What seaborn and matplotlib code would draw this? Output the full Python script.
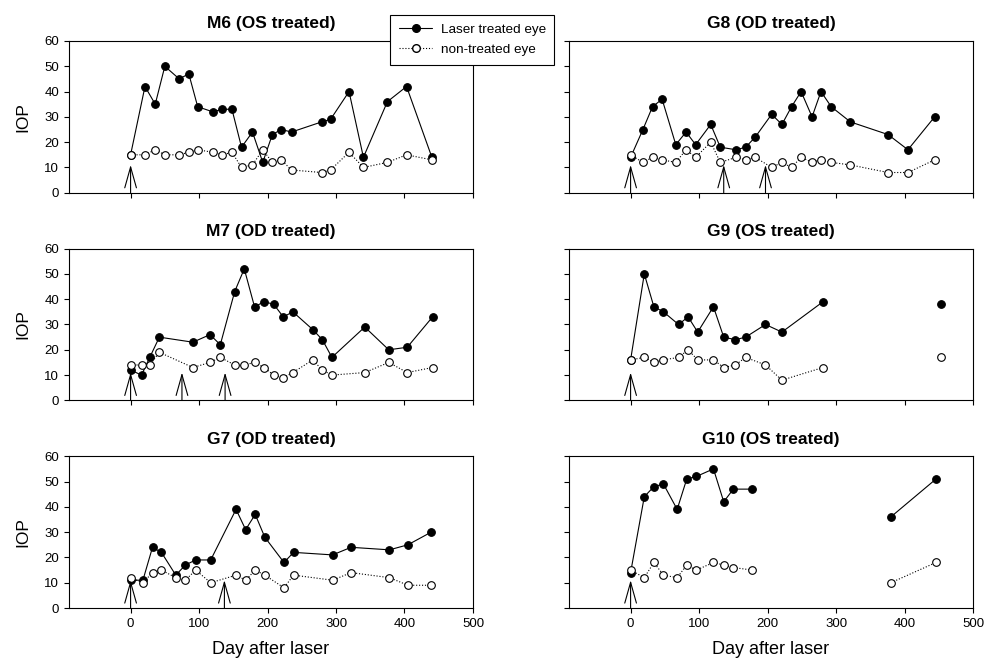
import pandas as pd
import matplotlib.pyplot as plt
from matplotlib.lines import Line2D
import seaborn as sns

# -------------------------------------------------
# Style
# -------------------------------------------------
sns.set_style("ticks")
plt.rcParams["font.family"] = ["Liberation Sans", "DejaVu Sans"]
plt.rcParams["axes.edgecolor"] = "black"
plt.rcParams["axes.linewidth"] = 0.8
plt.rcParams["xtick.color"] = "black"
plt.rcParams["ytick.color"] = "black"
plt.rcParams["text.color"] = "black"
plt.rcParams["axes.labelcolor"] = "black"

# -------------------------------------------------
# Data (IOP per day after laser)
# -------------------------------------------------
M6_day = [0, 21, 36, 50, 71, 85, 98, 120, 134, 148, 162, 178, 193, 207, 220, 235, 279, 292, 319, 340, 375, 403, 440]
M6_laser = [15, 42, 35, 50, 45, 47, 34, 32, 33, 33, 18, 24, 12, 23, 25, 24, 28, 29, 40, 14, 36, 42, 14]
M6_fellow = [15, 15, 17, 15, 15, 16, 17, 16, 15, 16, 10, 11, 17, 12, 13, 9, 8, 9, 16, 10, 12, 15, 13]
M6_arrows = [0]

G8_day = [0, 18, 32, 46, 66, 81, 95, 117, 131, 154, 168, 182, 206, 221, 235, 249, 265, 278, 293, 321, 376, 405, 444]
G8_laser = [14, 25, 34, 37, 19, 24, 19, 27, 18, 17, 18, 22, 31, 27, 34, 40, 30, 40, 34, 28, 23, 17, 30]
G8_fellow = [15, 12, 14, 13, 12, 17, 14, 20, 12, 14, 13, 14, 10, 12, 10, 14, 12, 13, 12, 11, 8, 8, 13]
G8_arrows = [0, 136, 197]

M7_day = [0, 16, 28, 42, 91, 116, 131, 152, 166, 181, 195, 209, 223, 237, 266, 280, 294, 342, 377, 404, 441]
M7_laser = [12, 10, 17, 25, 23, 26, 22, 43, 52, 37, 39, 38, 33, 35, 28, 24, 17, 29, 20, 21, 33]
M7_fellow = [14, 14, 14, 19, 13, 15, 17, 14, 14, 15, 13, 10, 9, 11, 16, 12, 10, 11, 15, 11, 13]
M7_arrows = [0, 75, 138]

G9_day = [0, 20, 34, 48, 70, 84, 98, 121, 136, 153, 168, 197, 221, 281, 453]
G9_laser = [16, 50, 37, 35, 30, 33, 27, 37, 25, 24, 25, 30, 27, 39, 38]
G9_fellow = [16, 17, 15, 16, 17, 20, 16, 16, 13, 14, 17, 14, 8, 13, 17]
G9_seg = [0, 0, 0, 0, 0, 0, 0, 0, 0, 0, 0, 0, 0, 0, 1]
G9_arrows = [0]

G7_day = [0, 18, 32, 45, 66, 80, 95, 117, 154, 168, 182, 196, 224, 238, 295, 322, 378, 405, 439]
G7_laser = [11, 11, 24, 22, 13, 17, 19, 19, 39, 31, 37, 28, 18, 22, 21, 24, 23, 25, 30]
G7_fellow = [12, 10, 14, 15, 12, 11, 15, 10, 13, 11, 15, 13, 8, 13, 11, 14, 12, 9, 9]
G7_arrows = [0, 137]

G10_day = [0, 20, 34, 48, 68, 82, 96, 121, 136, 150, 178, 380, 446]
G10_laser = [14, 44, 48, 49, 39, 51, 52, 55, 42, 47, 47, 36, 51]
G10_fellow = [15, 12, 18, 13, 12, 17, 15, 18, 17, 16, 15, 10, 18]
G10_seg = [0, 0, 0, 0, 0, 0, 0, 0, 0, 0, 0, 1, 1]
G10_arrows = [0]


def draw_panel(ax, title, day, laser, fellow, arrows, seg=None):
    if seg is None:
        seg = [0] * len(day)
    df = pd.DataFrame({"day": day, "laser": laser, "fellow": fellow, "seg": seg})

    sns.lineplot(
        data=df, x="day", y="laser", units="seg", estimator=None, sort=False,
        color="black", lw=0.8, marker="o", markersize=5.5,
        markerfacecolor="black", markeredgecolor="black", markeredgewidth=0.8,
        ax=ax
    )
    sns.lineplot(
        data=df, x="day", y="fellow", units="seg", estimator=None, sort=False,
        color="black", lw=0.8, linestyle=":", marker="o", markersize=5.5,
        markerfacecolor="white", markeredgecolor="black", markeredgewidth=0.8,
        ax=ax
    )

    # laser treatment arrows
    for d in arrows:
        ax.annotate(
            "", xy=(d, 11), xytext=(d, 0), annotation_clip=False,
            arrowprops=dict(arrowstyle="->, head_length=1.5, head_width=0.42",
                            mutation_scale=10, lw=0.8, color="black",
                            shrinkA=0, shrinkB=0)
        )

    ax.set_title(title, fontsize=12.5, fontweight="bold", pad=9)
    ax.set_xlim(-90, 500)
    ax.set_ylim(0, 60)
    ax.set_xticks([0, 100, 200, 300, 400, 500])
    ax.set_yticks([0, 10, 20, 30, 40, 50, 60])
    ax.tick_params(direction="out", length=3.5, width=0.8, labelsize=9.5)
    ax.set_xlabel("")
    ax.set_ylabel("")
    for s in ax.spines.values():
        s.set_visible(True)
        s.set_linewidth(0.8)


fig, axes = plt.subplots(3, 2, figsize=(9.88, 6.64), dpi=100, sharex=True, sharey=True)
fig.subplots_adjust(left=0.0698, right=0.9848, bottom=0.0843, top=0.9383,
                    wspace=0.2376, hspace=0.368)

draw_panel(axes[0, 0], "M6 (OS treated)", M6_day, M6_laser, M6_fellow, M6_arrows)
draw_panel(axes[0, 1], "G8 (OD treated)", G8_day, G8_laser, G8_fellow, G8_arrows)
draw_panel(axes[1, 0], "M7 (OD treated)", M7_day, M7_laser, M7_fellow, M7_arrows)
draw_panel(axes[1, 1], "G9 (OS treated)", G9_day, G9_laser, G9_fellow, G9_arrows, G9_seg)
draw_panel(axes[2, 0], "G7 (OD treated)", G7_day, G7_laser, G7_fellow, G7_arrows)
draw_panel(axes[2, 1], "G10 (OS treated)", G10_day, G10_laser, G10_fellow, G10_arrows, G10_seg)

for ax in axes[:, 0]:
    ax.set_ylabel("IOP", fontsize=12.5, labelpad=10)
for ax in axes[2, :]:
    ax.set_xlabel("Day after laser", fontsize=13, labelpad=8)

handles = [
    Line2D([], [], color="black", lw=0.8, marker="o", markersize=5.5,
           markerfacecolor="black", markeredgecolor="black"),
    Line2D([], [], color="black", lw=0.8, linestyle=":", marker="o", markersize=5.5,
           markerfacecolor="white", markeredgecolor="black"),
]
leg = fig.legend(
    handles, ["Laser treated eye", "non-treated eye"],
    loc="upper left", bbox_to_anchor=(390 / 988, 1 - 15 / 664),
    borderaxespad=0, fontsize=9.7, frameon=True, fancybox=False,
    framealpha=1, edgecolor="black", handlelength=2.5, handletextpad=0.6,
    borderpad=0.65, labelspacing=0.55
)
leg.get_frame().set_linewidth(0.8)

plt.savefig("out.png", dpi=100)
plt.close()
